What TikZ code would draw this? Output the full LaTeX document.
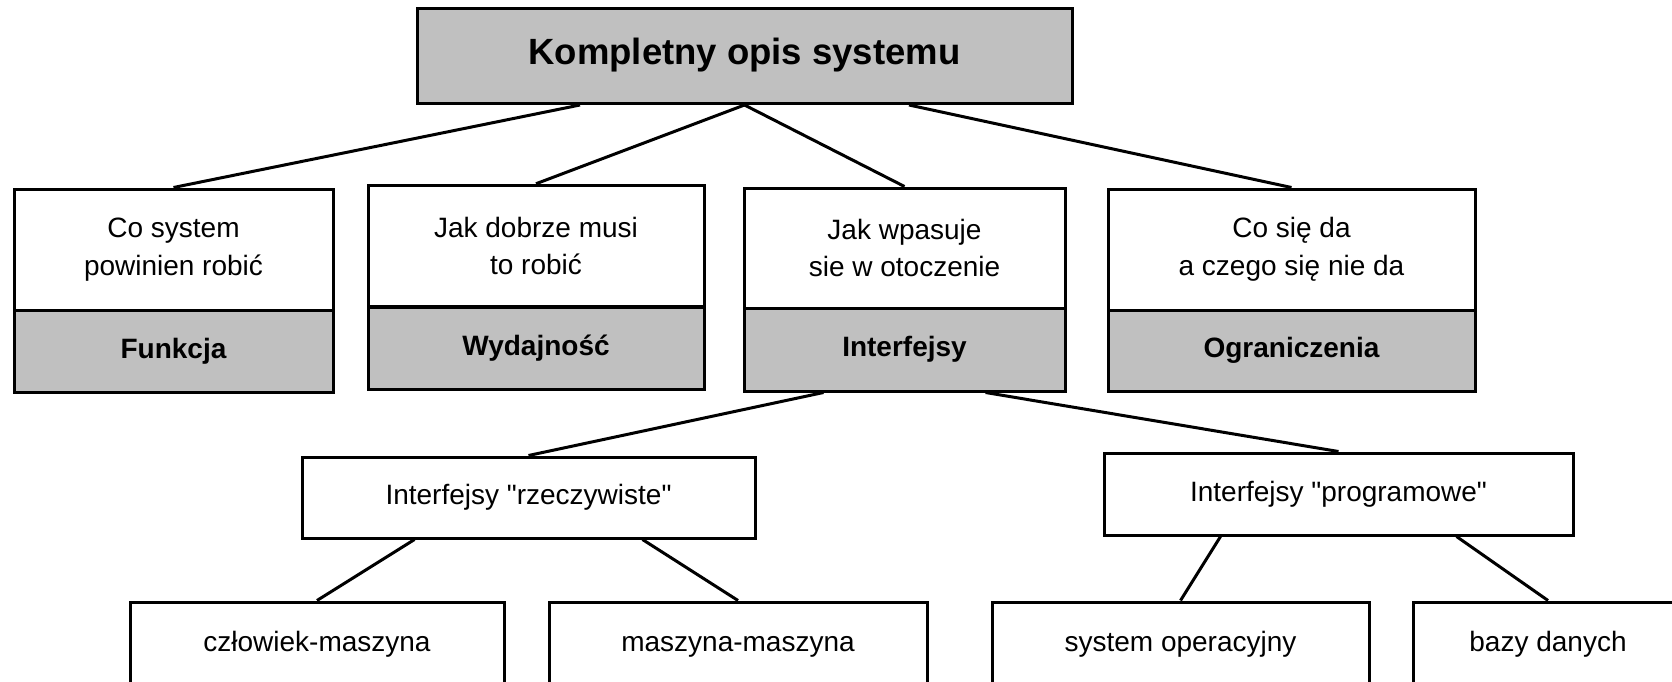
\documentclass[tikz,border=0pt]{standalone}
\usepackage{fontspec}
\setmainfont{Liberation Sans}[Ligatures=TeXOff]
\usetikzlibrary{calc}
\definecolor{boxgray}{RGB}{192,192,192}
\begin{document}
\begin{tikzpicture}[
    x=1pt,y=-1pt,line width=3pt,
    every node/.style={font=\fontsize{28}{37.5}\selectfont,inner sep=0pt,align=center},
    frame/.style={draw,fill=white,minimum width=#1pt},
    box/.style={frame=#1,text height=20pt,text depth=6pt},
    graybox/.style={box=#1,fill=boxgray,font=\fontsize{28}{37.5}\selectfont\bfseries}]
    \useasboundingbox (0,0) rectangle (1672,682);
    \clip (0,0) rectangle (1672,682);
    \node[graybox=655,minimum height=95pt,font=\fontsize{36.5}{44}\selectfont\bfseries,
        text height=26pt,text depth=8pt] (opis) at (744.5,56) {Kompletny opis systemu};
    \node[frame=319,minimum height=121pt] (funkcjaT) at (173.5,249.5) {Co system\\powinien robić};
    \node[graybox=319,minimum height=82pt] (funkcja) at (173.5,351) {Funkcja};
    \node[frame=336,minimum height=121.5pt] (wydajT) at (536,246) {Jak dobrze musi\\to robić};
    \node[graybox=336,minimum height=82pt] (wydaj) at (536,348) {Wydajność};
    \node[frame=321,minimum height=120pt] (interT) at (904.5,248) {Jak wpasuje\\sie w otoczenie};
    \node[graybox=321,minimum height=83pt] (inter) at (904.5,349.5) {Interfejsy};
    \node[frame=367,minimum height=121pt] (ograT) at (1291.5,249.5) {Co się da\\a czego się nie da};
    \node[graybox=367,minimum height=81pt] (ogra) at (1291.5,350.5) {Ograniczenia};
    \node[box=453,minimum height=81pt] (rzecz) at (528.5,497.5) {Interfejsy "rzeczywiste"};
    \node[box=469,minimum height=82pt] (prog) at (1338.5,494) {Interfejsy "programowe"};
    \node[box=374,minimum height=84pt] (czlow) at (317,644) {człowiek-maszyna};
    \node[box=378,minimum height=84pt] (maszyna) at (738,644) {maszyna-maszyna};
    \node[box=377,minimum height=84pt] (sysop) at (1180.5,644) {system operacyjny};
    \node[box=270,minimum height=84pt] (bazy) at (1548,644) {bazy danych};
    \foreach \from/\pos/\to in {opis/.25/funkcjaT,opis/.5/wydajT,opis/.5/interT,
        opis/.75/ograT,inter/.25/rzecz,inter/.75/prog,rzecz/.25/czlow,
        rzecz/.75/maszyna,prog/.25/sysop,prog/.75/bazy}
        \draw ($(\from.south west)!\pos!(\from.south east)$) -- (\to.north);
\end{tikzpicture}
\end{document}
